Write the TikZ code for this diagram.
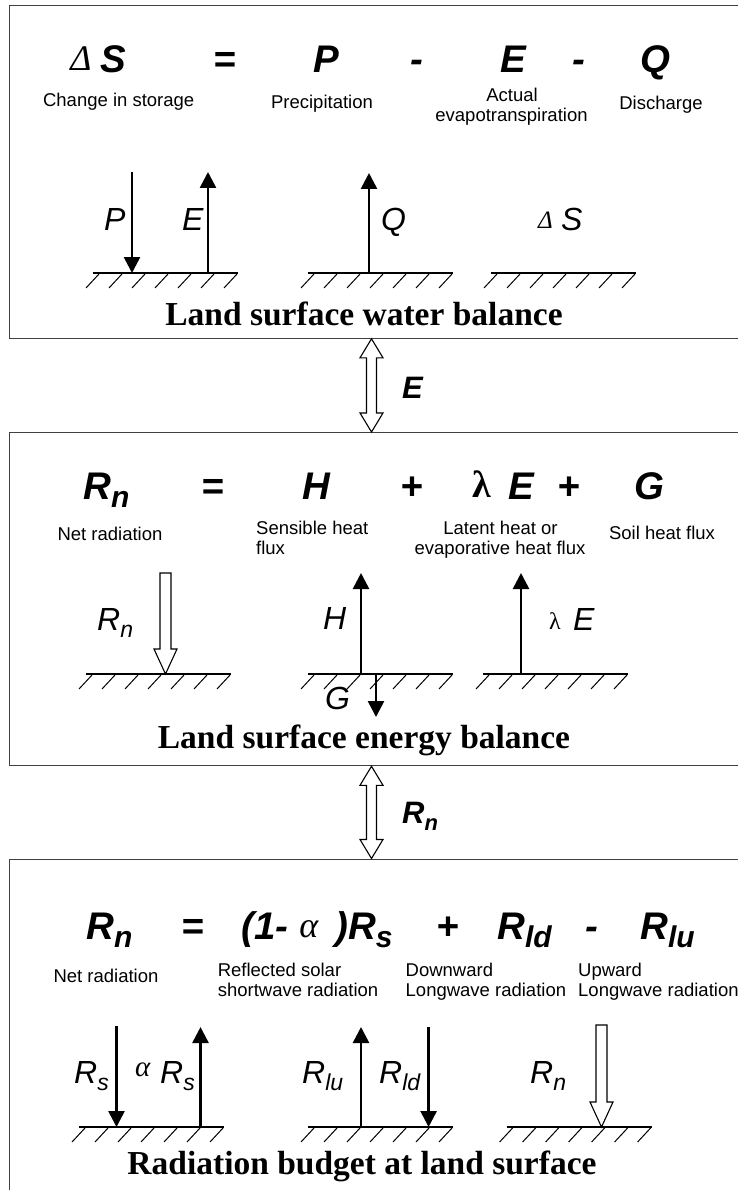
\documentclass[tikz,border=0pt]{standalone}
\usepackage{fontspec}
\setmainfont{Liberation Sans}
\newfontfamily\ttlfont{Liberation Serif}
\newfontfamily\grkfont{Liberation Serif}
\usetikzlibrary{arrows.meta,calc}

\newcommand{\eqsub}[1]{\raisebox{-8pt}{\fontsize{30}{30}\selectfont #1}}
\newcommand{\dgsub}[1]{\raisebox{-7pt}{\fontsize{23}{23}\selectfont #1}}

\newcommand{\myGround}[3]{%
  \coordinate (#1) at (#2,#3);
  \draw[groundline] (#1) -- ++(145,0);
  \foreach \k in {0,...,6} {\draw[hatchline] ($(#1)+(6+23*\k,1)$) -- ++(-13,14);}
}
\newcommand{\myHollowDown}[2]{%
  \draw[hollow] ($(#1)+(-5.5,0)$) -- ($(#1)+(5.5,0)$) -- ($(#2)+(5.5,-25)$) -- ($(#2)+(11.5,-25)$) -- (#2) -- ($(#2)+(-11.5,-25)$) -- ($(#2)+(-5.5,-25)$) -- cycle;}
\newcommand{\myDblArrow}[2]{%
  \draw[hollow] (#1) -- ($(#1)+(11.5,19)$) -- ($(#1)+(5,19)$) -- ($(#2)+(5,-19)$) -- ($(#2)+(11.5,-19)$) -- (#2) -- ($(#2)+(-11.5,-19)$) -- ($(#2)+(-5,-19)$) -- ($(#1)+(-5,19)$) -- ($(#1)+(-11.5,19)$) -- cycle;}

\tikzset{
  boxst/.style={draw=black!75, line width=1.3pt, inner sep=0pt, anchor=north west},
  groundline/.style={line width=2pt},
  hatchline/.style={line width=1pt},
  solidarrow/.style={line width=2.6pt, -{Triangle[length=16pt,width=16pt]}},
  hollow/.style={line width=1.1pt, fill=white, line join=miter},
  eqf/.style={font=\fontsize{38.5}{38.5}\selectfont\bfseries\itshape, inner sep=0pt, anchor=base},
  lblf/.style={font=\fontsize{18.5}{20}\selectfont, inner sep=0pt, anchor=base},
  symf/.style={font=\fontsize{32}{32}\selectfont\itshape, inner sep=0pt, anchor=base west},
  ttlf/.style={font=\ttlfont\fontsize{33.5}{33.5}\selectfont\bfseries, inner sep=0pt, anchor=base},
  grkeq/.style={font=\grkfont\itshape\fontsize{36}{36}\selectfont, inner sep=0pt, anchor=base},
  cnlbl/.style={font=\fontsize{31}{31}\selectfont\bfseries\itshape, inner sep=0pt, anchor=base west},
}

\begin{document}
\begin{tikzpicture}[x=1pt,y=-1pt]
\useasboundingbox (0,0) rectangle (737,1190);
\fill[white] (0,0) rectangle (737,1190);

% boxes
\node[boxst, minimum width=735pt, minimum height=332.5pt] (box1) at (9,5) {};
\node[boxst, minimum width=735pt, minimum height=333pt] (box2) at (9,432) {};
\node[boxst, minimum width=735pt, minimum height=345pt] (box3) at (9,858.5) {};

% ===== Box 1: water balance =====
\node[grkeq] (e1d) at (81,71) {Δ};
\node[eqf] (e1s) at (113,73) {S};
\node[eqf] (e1eq) at (224.5,73) {=};
\node[eqf] (e1p) at (326.6,73) {P};
\node[eqf] (e1m1) at (417,73) {-};
\node[eqf] (e1e) at (513,73) {E};
\node[eqf] (e1m2) at (579,73) {-};
\node[eqf] (e1q) at (655,73) {Q};

\node[lblf] (l1a) at (118.7,107) {Change in storage};
\node[lblf] (l1b) at (322,109) {Precipitation};
\node[lblf] (l1c) at (512,102) {Actual};
\node[lblf] (l1d) at (511.5,122) {evapotranspiration};
\node[lblf] (l1e) at (661,110) {Discharge};

\myGround{g1a}{93}{273}
\myGround{g1b}{308}{273}
\myGround{g1c}{491}{273}

\coordinate (pT) at (132,172);
\draw[solidarrow] (pT) -- (pT |- g1a);
\coordinate (eT) at (208,172);
\draw[solidarrow] (eT |- g1a) -- (eT);
\coordinate (qT) at (369,173);
\draw[solidarrow] (qT |- g1b) -- (qT);

\node[symf] (dP) at (104,230) {P};
\node[symf] (dE) at (182,230) {E};
\node[symf] (dQ) at (381,230) {Q};
\node[anchor=base west, inner sep=0pt, font=\grkfont\itshape\fontsize{25}{25}\selectfont] (dD) at (538,229) {Δ};
\node[symf] (dS) at (561,230) {S};

\node[ttlf] (t1) at (364,325) {Land surface water balance};

% connector E
\coordinate (ca) at (371.5,0);
\coordinate (c1t) at (ca |- box1.south);
\coordinate (c1b) at (ca |- box2.north);
\myDblArrow{c1t}{c1b}
\node[cnlbl] (cE) at (402,398) {E};

% ===== Box 2: energy balance =====
\node[eqf, anchor=base west] (e2r) at (83,499) {R\eqsub{n}};
\node[eqf] (e2eq) at (213,499) {=};
\node[eqf] (e2h) at (316,499) {H};
\node[eqf] (e2p1) at (412,499) {+};
\node[anchor=base, inner sep=0pt, font=\grkfont\bfseries\fontsize{38}{38}\selectfont] (e2l) at (482,497) {λ};
\node[eqf] (e2e) at (521,499) {E};
\node[eqf] (e2p2) at (569,499) {+};
\node[eqf] (e2g) at (649,499) {G};

\node[lblf] (l2a) at (110,540) {Net radiation};
\node[lblf, anchor=base west] (l2b) at (256,534) {Sensible heat};
\node[lblf, anchor=base west] (l2c) at (256,554) {flux};
\node[lblf] (l2d) at (500.5,534) {Latent heat or};
\node[lblf] (l2e) at (500,554) {evaporative heat flux};
\node[lblf] (l2f) at (662,539) {Soil heat flux};

\myGround{g2a}{86}{674}
\myGround{g2b}{308}{674}
\myGround{g2c}{483}{674}

\coordinate (rnT) at (165.5,573);
\coordinate (rnB) at (rnT |- g2a);
\myHollowDown{rnT}{rnB}
\coordinate (hT) at (361,573);
\draw[solidarrow] (hT |- g2b) -- (hT);
\coordinate (gB) at (376,717);
\draw[solidarrow] (gB |- g2b) -- (gB);
\coordinate (leT) at (521,573);
\draw[solidarrow] (leT |- g2c) -- (leT);

\node[symf] (dRn) at (97,630) {R\dgsub{n}};
\node[symf] (dH) at (323,629) {H};
\node[symf] (dG) at (325,709) {G};
\node[anchor=base west, inner sep=0pt, font=\grkfont\fontsize{24}{24}\selectfont] (dL) at (549,629) {λ};
\node[symf] (dE2) at (573,630) {E};

\node[ttlf] (t2) at (364,748.5) {Land surface energy balance};

% connector Rn
\coordinate (c2t) at (ca |- box2.south);
\coordinate (c2b) at (ca |- box3.north);
\myDblArrow{c2t}{c2b}
\node[cnlbl] (cR) at (402,823) {R\raisebox{-7pt}{\fontsize{22}{22}\selectfont n}};

% ===== Box 3: radiation budget =====
\node[eqf, anchor=base west] (e3r) at (86,939) {R\eqsub{n}};
\node[eqf] (e3eq) at (193,939) {=};
\node[eqf, anchor=base west] (e3a) at (241,939) {(1-};
\node[anchor=base, inner sep=0pt, font=\grkfont\itshape\fontsize{36}{36}\selectfont] (e3al) at (308.7,937) {α};
\node[eqf, anchor=base west] (e3b) at (335,939) {)R\eqsub{s}};
\node[eqf] (e3p) at (447.5,939) {+};
\node[eqf, anchor=base west] (e3ld) at (497,939) {R\eqsub{ld}};
\node[eqf] (e3m) at (592,939) {-};
\node[eqf, anchor=base west] (e3lu) at (640,939) {R\eqsub{lu}};

\node[lblf] (l3a) at (106,982) {Net radiation};
\node[lblf, anchor=base west] (l3b) at (217.6,976) {Reflected solar};
\node[lblf, anchor=base west] (l3c) at (217.6,996) {shortwave radiation};
\node[lblf, anchor=base west] (l3d) at (405.5,976) {Downward};
\node[lblf, anchor=base west] (l3e) at (405.5,996) {Longwave radiation};
\node[lblf, anchor=base west] (l3f) at (578,976) {Upward};
\node[lblf, anchor=base west] (l3g) at (578,996) {Longwave radiation};

\myGround{g3a}{79}{1127}
\myGround{g3b}{308}{1127}
\myGround{g3c}{506.6}{1127}

\coordinate (rsT) at (116.5,1026);
\draw[solidarrow] (rsT) -- (rsT |- g3a);
\coordinate (arsT) at (200.5,1027);
\draw[solidarrow] (arsT |- g3a) -- (arsT);
\coordinate (rluT) at (361,1027);
\draw[solidarrow] (rluT |- g3b) -- (rluT);
\coordinate (rldT) at (428.6,1027);
\draw[solidarrow] (rldT) -- (rldT |- g3b);
\coordinate (rn3T) at (601.5,1025);
\coordinate (rn3B) at (rn3T |- g3c);
\myHollowDown{rn3T}{rn3B}

\node[symf] (dRs) at (74,1083) {R\dgsub{s}};
\node[anchor=base west, inner sep=0pt, font=\grkfont\itshape\fontsize{29}{29}\selectfont] (dAl) at (135,1076) {α};
\node[symf] (dRs2) at (160,1083) {R\dgsub{s}};
\node[symf] (dRlu) at (302,1083) {R\dgsub{lu}};
\node[symf] (dRld) at (379,1083) {R\dgsub{ld}};
\node[symf] (dRn3) at (530,1083) {R\dgsub{n}};

\node[ttlf] (t3) at (362,1174) {Radiation budget at land surface};
\end{tikzpicture}
\end{document}
